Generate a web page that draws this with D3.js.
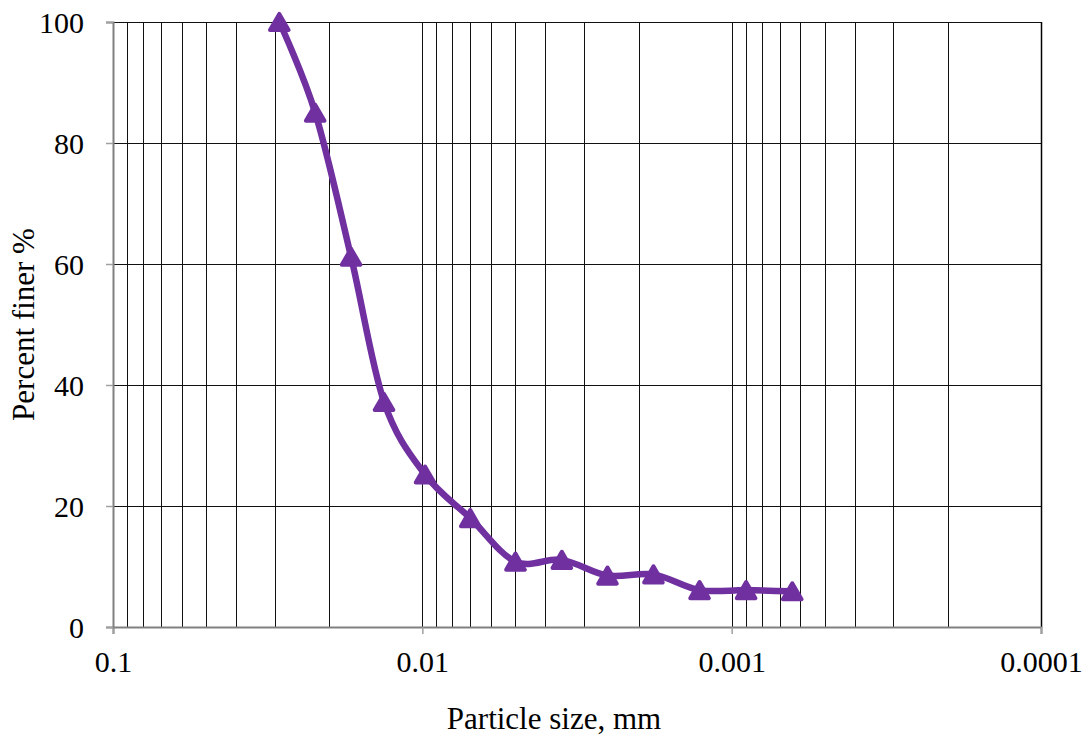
<!DOCTYPE html>
<html>
<head>
<meta charset="utf-8">
<script src="https://cdn.jsdelivr.net/npm/d3@7"></script>
<style>
	body { margin: 0; background: #fff; }
	text { font-family: "Liberation Serif", "Times New Roman", serif; fill: #000; }
</style>
</head>
<body>
<div id="chart"></div>
<script>
// grain size distribution (hydrometer part)
var particleSize = [0.029, 0.0222, 0.0170, 0.0133, 0.0098, 0.0070, 0.0050, 0.00354, 0.00252, 0.00179, 0.00127, 0.000898, 0.000637];
var percentFiner = [100, 85.0, 61.2, 37.2, 25.2, 18.0, 10.8, 11.1, 8.5, 8.7, 6.1, 6.1, 5.9];

var xTicks = [0.1, 0.01, 0.001, 0.0001];
var xTickLabels = ["0.1", "0.01", "0.001", "0.0001"];
var yTicks = [0, 20, 40, 60, 80, 100];

var W = 1092, H = 740;
var margin = {left: 113, right: 51, top: 22, bottom: 113};
var w = W - margin.left - margin.right,
	h = H - margin.top - margin.bottom;

var svg = d3.select("#chart")
	.append("svg")
		.attr("width", W)
		.attr("height", H);

var g = svg.append("g")
	.attr("transform", "translate(" + margin.left + "," + margin.top + ")");

// scales, x is log and reversed (coarse on the left)
var x = d3.scaleLog()
	.domain([0.1, 0.0001])
	.range([0, w]);
var y = d3.scaleLinear()
	.domain([0, 100])
	.range([h, 0]);

// minor + major vertical grid: 1..9 of every decade
var gridX = [];
[0.1, 0.01, 0.001].forEach(function(dec){
	for (var k = 1; k < 10; k++) gridX.push(dec / 10 * k);
});
gridX.push(0.0001);

g.selectAll(".vgrid")
	.data(gridX)
	.enter()
	.append("line")
	.attr("class", "vgrid")
	.attr("x1", function(d){ return Math.round(x(d)) + 0.5; })
	.attr("x2", function(d){ return Math.round(x(d)) + 0.5; })
	.attr("y1", 0)
	.attr("y2", h)
	.attr("stroke", "#111")
	.attr("stroke-width", 1);

g.selectAll(".hgrid")
	.data(yTicks.slice(1))
	.enter()
	.append("line")
	.attr("class", "hgrid")
	.attr("x1", 0)
	.attr("x2", w)
	.attr("y1", function(d){ return Math.round(y(d)) + 0.5; })
	.attr("y2", function(d){ return Math.round(y(d)) + 0.5; })
	.attr("stroke", "#111")
	.attr("stroke-width", 1);

// right border
g.append("line")
	.attr("x1", w + 0.5).attr("x2", w + 0.5)
	.attr("y1", 0).attr("y2", h)
	.attr("stroke", "#000")
	.attr("stroke-width", 1.5);

// axes
var xAxis = d3.axisBottom(x)
	.tickValues(xTicks)
	.tickFormat(function(d, i){ return xTickLabels[i]; })
	.tickSize(7)
	.tickPadding(17);
var yAxis = d3.axisLeft(y)
	.tickValues(yTicks)
	.tickSize(7)
	.tickPadding(22);

var gX = g.append("g")
	.attr("transform", "translate(0," + h + ")")
	.call(xAxis);
var gY = g.append("g")
	.call(yAxis);

[gX, gY].forEach(function(ax){
	ax.select(".domain").attr("stroke", "#808080").attr("stroke-width", 2);
	ax.selectAll(".tick line").attr("stroke", "#a0a0a0").attr("stroke-width", 1.5);
	ax.selectAll(".tick text")
		.style("font-family", "'Liberation Serif', serif")
		.style("font-size", "30px")
		.attr("fill", "#000");
});
gY.selectAll(".tick text").attr("dy", "0.34em");

// axis titles
svg.append("text")
	.attr("x", margin.left + w / 2 - 23)
	.attr("y", 729)
	.attr("text-anchor", "middle")
	.style("font-size", "31px")
	.text("Particle size, mm");

svg.append("text")
	.attr("transform", "translate(34," + (margin.top + h / 2) + ") rotate(-90)")
	.attr("text-anchor", "middle")
	.style("font-size", "31px")
	.text("Percent finer %");

// data
var pts = particleSize.map(function(d, i){ return [d, percentFiner[i]]; });
var purple = "#7030a0";

var line = d3.line()
	.x(function(d){ return x(d[0]); })
	.y(function(d){ return y(d[1]); })
	.curve(d3.curveCardinal.tension(0));

g.append("path")
	.datum(pts)
	.attr("d", line)
	.attr("fill", "none")
	.attr("stroke", purple)
	.attr("stroke-width", 6.5)
	.attr("stroke-linejoin", "round");

// triangle marker, box-centred on the point like the spreadsheet does
var triSize = 150;
var triH = Math.sqrt(triSize * Math.sqrt(3));
g.selectAll(".marker")
	.data(pts)
	.enter()
	.append("path")
	.attr("class", "marker")
	.attr("d", d3.symbol().type(d3.symbolTriangle).size(triSize)())
	.attr("fill", purple)
	.attr("stroke", purple)
	.attr("stroke-width", 4)
	.attr("stroke-linejoin", "round")
	.attr("transform", function(d){ return "translate(" + x(d[0]) + "," + (y(d[1]) + triH / 6) + ")"; });
</script>
</body>
</html>
